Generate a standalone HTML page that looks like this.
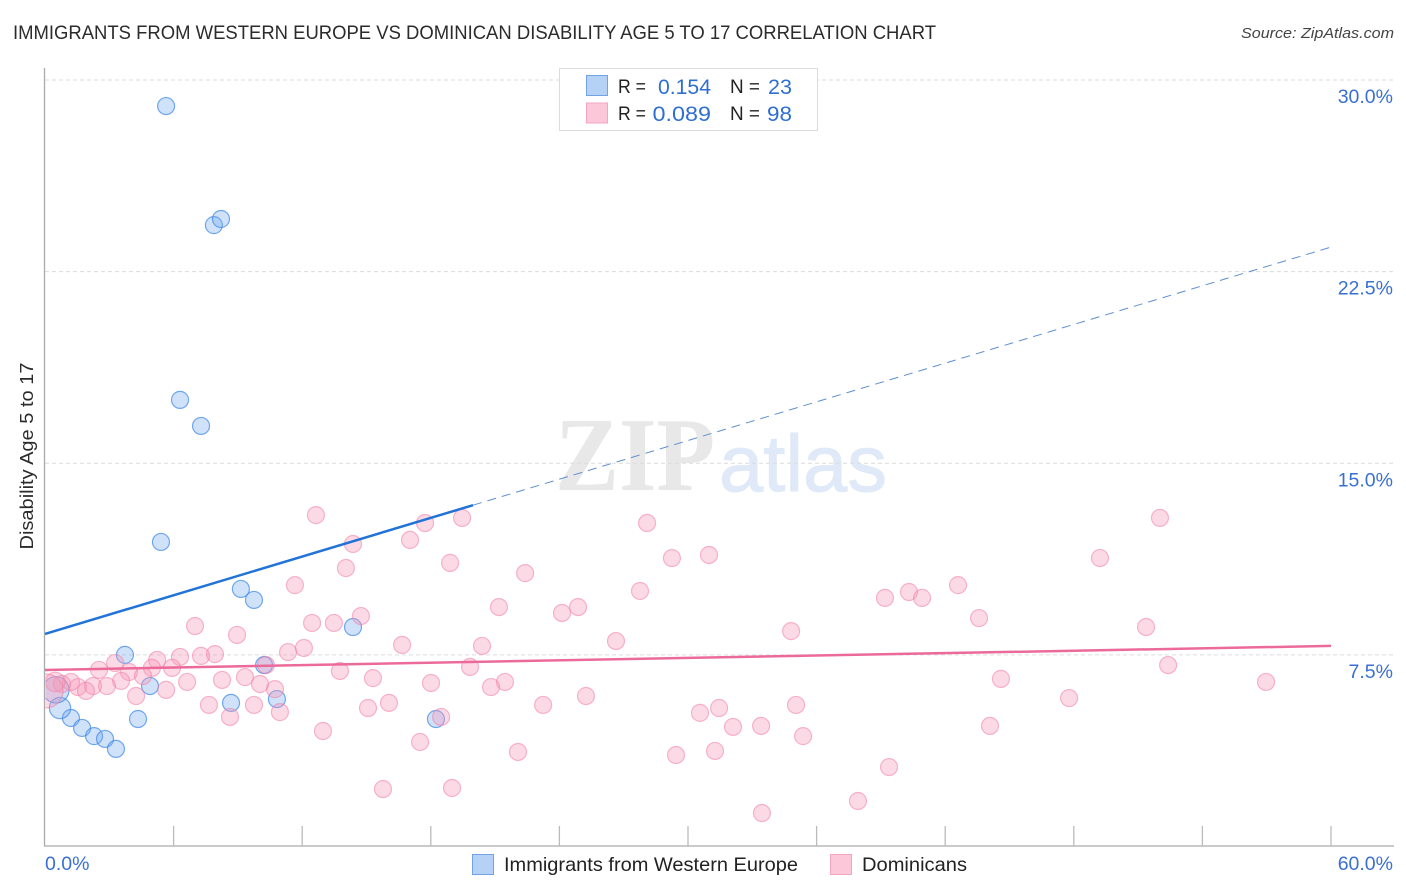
<!DOCTYPE html>
<html lang="en">
<head>
<meta charset="utf-8">
<title>Immigrants from Western Europe vs Dominican Disability Age 5 to 17 Correlation Chart</title>
<style>
html,body{margin:0;padding:0;background:#fff;width:1406px;height:892px;overflow:hidden}
svg{display:block}
text{font-family:"Liberation Sans",sans-serif}
</style>
</head>
<body>
<svg id="chart" width="1406" height="892" viewBox="0 0 1406 892" xmlns="http://www.w3.org/2000/svg">
  <defs>
    <clipPath id="plot-clip"><rect x="45.5" y="60" width="1350" height="786"/></clipPath>
  </defs>
  <rect x="0" y="0" width="1406" height="892" fill="#fff"/>
  <text x="13" y="39" font-size="19.5" fill="#2b2b2b" textLength="923" lengthAdjust="spacingAndGlyphs">IMMIGRANTS FROM WESTERN EUROPE VS DOMINICAN DISABILITY AGE 5 TO 17 CORRELATION CHART</text>
  <text x="1394" y="38" font-size="15" font-style="italic" fill="#444" text-anchor="end" textLength="153" lengthAdjust="spacingAndGlyphs">Source: ZipAtlas.com</text>

  <g>
    <text x="555" y="490" font-size="105" font-weight="bold" fill="#e8e8e8" textLength="160" lengthAdjust="spacingAndGlyphs" style="font-family:'Liberation Serif',serif">ZIP</text>
    <text x="719" y="491" font-size="80" fill="#dfe9f8" stroke="#dfe9f8" stroke-width="1" textLength="168" lengthAdjust="spacingAndGlyphs">atlas</text>
  </g>

  <g id="grid"></g>
  <g id="axes"></g>
  <g id="points" clip-path="url(#plot-clip)"></g>
  <g id="trends"></g>
  <g id="labels"></g>

  <text transform="translate(33,456) rotate(-90)" font-size="18" fill="#2b2b2b" text-anchor="middle" textLength="187" lengthAdjust="spacingAndGlyphs">Disability Age 5 to 17</text>

  <g>
    <rect x="559.5" y="68.5" width="258" height="62" fill="#fff" stroke="#dcdcdc" stroke-width="1"/>
    <rect x="586.5" y="75.5" width="21" height="20" fill="#b5d1f5" stroke="#72a3e4"/>
    <rect x="586.5" y="103" width="21" height="20" fill="#fcc8d9" stroke="#f3a6c0"/>
    <text x="618" y="93" font-size="19" fill="#222" textLength="28" lengthAdjust="spacingAndGlyphs">R =</text>
    <text x="658" y="94" font-size="21.5" fill="#2f6fd0" textLength="53" lengthAdjust="spacingAndGlyphs">0.154</text>
    <text x="730" y="93" font-size="19" fill="#222" textLength="30" lengthAdjust="spacingAndGlyphs">N =</text>
    <text x="768" y="94" font-size="21.5" fill="#2f6fd0" textLength="24" lengthAdjust="spacingAndGlyphs">23</text>
    <text x="618" y="120" font-size="19" fill="#222" textLength="28" lengthAdjust="spacingAndGlyphs">R =</text>
    <text x="652.5" y="121" font-size="21.5" fill="#2f6fd0" textLength="58.5" lengthAdjust="spacingAndGlyphs">0.089</text>
    <text x="730" y="120" font-size="19" fill="#222" textLength="30" lengthAdjust="spacingAndGlyphs">N =</text>
    <text x="767" y="121" font-size="21.5" fill="#2f6fd0" textLength="25" lengthAdjust="spacingAndGlyphs">98</text>
  </g>

  <g>
    <g>
      <rect x="472.5" y="854.5" width="21" height="20" fill="#b5d1f5" stroke="#72a3e4"/>
      <text x="504" y="871" font-size="19.5" fill="#222" textLength="294" lengthAdjust="spacingAndGlyphs">Immigrants from Western Europe</text>
    </g>
    <g>
      <rect x="830.5" y="854.5" width="21" height="20" fill="#fcc8d9" stroke="#f3a6c0"/>
      <text x="862" y="871" font-size="19.5" fill="#222" textLength="105" lengthAdjust="spacingAndGlyphs">Dominicans</text>
    </g>
  </g>
</svg>

<script>
const xTickValues = [0, 6, 12, 18, 24, 30, 36, 42, 48, 54, 60];
const yTickValues = [7.5, 15, 22.5, 30];
const yTickLabels = ["7.5%", "15.0%", "22.5%", "30.0%"];
const xEndLabels = ["0.0%", "60.0%"];

const blueX = [5.65,7.88,8.21,6.30,7.28,5.41,9.14,9.75,14.37,3.73,10.22,4.90,10.82,8.68,18.24,4.34,1.21,1.73,2.29,2.80,3.31,0.70,0.51];
const blueY = [28.98,24.32,24.56,17.48,16.46,11.92,10.08,9.65,8.59,7.50,7.10,6.28,5.77,5.62,4.99,4.99,5.03,4.64,4.32,4.21,3.82,5.42,6.13];
const blueWeight = [1,1,1,1,1,1,1,1,1,1,1,1,1,1,1,1,1,1,1,1,1,1.25,1.55];

const pinkX = [12.64,17.73,19.46,28.09,52.02,14.37,17.03,14.04,18.90,29.25,30.98,49.22,22.40,11.66,27.76,39.19,40.31,40.92,42.60,21.18,24.12,24.87,14.74,12.46,13.48,7.00,8.96,43.58,51.37,34.81,26.64,16.66,20.39,12.08,11.34,7.93,7.28,6.30,5.23,3.27,2.52,4.99,5.93,3.92,10.31,13.76,19.83,52.40,4.57,6.63,8.26,9.33,10.03,15.30,18.01,21.46,20.81,44.60,56.97,3.55,2.89,2.24,1.54,1.21,0.79,1.91,4.25,5.65,10.73,25.24,47.78,7.65,9.75,16.05,15.07,23.24,35.04,31.45,30.56,10.96,8.63,18.48,32.10,33.41,44.09,12.97,35.37,17.50,22.07,31.26,29.44,39.38,15.77,18.99,37.93,33.45,0.47,0.05];
const pinkY = [12.97,12.66,12.86,12.66,12.86,11.84,12.00,10.90,11.10,11.29,11.41,11.29,10.70,10.23,10.00,9.73,9.96,9.73,10.23,9.37,9.14,9.37,9.02,8.75,8.75,8.63,8.28,8.94,8.59,8.43,8.04,7.89,7.85,7.77,7.61,7.53,7.46,7.42,7.30,7.18,6.91,6.99,6.99,6.83,7.10,6.87,7.03,7.10,6.67,6.44,6.52,6.63,6.36,6.59,6.40,6.44,6.24,6.56,6.44,6.48,6.28,6.28,6.24,6.44,6.36,6.09,5.89,6.13,6.16,5.89,5.81,5.54,5.54,5.62,5.42,5.54,5.54,5.42,5.23,5.26,5.07,5.07,4.68,4.72,4.72,4.52,4.32,4.09,3.70,3.74,3.58,3.11,2.25,2.29,1.78,1.31,6.44,6.09];
const pinkWeight = [1,1,1,1,1,1,1,1,1,1,1,1,1,1,1,1,1,1,1,1,1,1,1,1,1,1,1,1,1,1,1,1,1,1,1,1,1,1,1,1,1,1,1,1,1,1,1,1,1,1,1,1,1,1,1,1,1,1,1,1,1,1,1,1,1,1,1,1,1,1,1,1,1,1,1,1,1,1,1,1,1,1,1,1,1,1,1,1,1,1,1,1,1,1,1,1,1.15,2];

const blueTrendStart = 8.32;
const blueTrendEnd = 23.46;
const blueSolidUntil = 19.97;
const pinkTrendStart = 6.91;
const pinkTrendEnd = 7.85;

const NS = "http://www.w3.org/2000/svg";
function sx(v){ return 45 + v * (1331 - 45) / 60; }
function sy(v){ return 846.5 - v * 25.55; }
function make(tag, attrs, parent){
  const el = document.createElementNS(NS, tag);
  for (const k in attrs) el.setAttribute(k, attrs[k]);
  parent.appendChild(el);
  return el;
}
const grid = document.getElementById("grid");
const axes = document.getElementById("axes");
const points = document.getElementById("points");
const trends = document.getElementById("trends");
const labels = document.getElementById("labels");

yTickValues.forEach(function(v, i){
  const line = make("line", {x1:45, x2:1394, y1:sy(v), y2:sy(v), stroke:"#dcdcdc", "stroke-width":1, "stroke-dasharray":"4 3"}, grid);
  
  
  const t = make("text", {x:1393, y:sy(v)+23, "font-size":19.5, fill:"#3a70d2", "text-anchor":"end"}, labels);
  t.textContent = yTickLabels[i];
  
  
});

const yAxis = make("line", {x1:44.5, x2:44.5, y1:68, y2:846.5, stroke:"#aaa", "stroke-width":1.3}, axes);


const xAxis = make("line", {x1:44, x2:1394, y1:846, y2:846, stroke:"#aaa", "stroke-width":1.3}, axes);



xTickValues.slice(1).forEach(function(v){
  const tick = make("line", {x1:sx(v), x2:sx(v), y1:826, y2:846, stroke:"#bbb", "stroke-width":1.3}, axes);
  
  
});

const x0 = make("text", {x:45, y:870, "font-size":19.5, fill:"#3a70d2"}, labels);
x0.textContent = xEndLabels[0];


const x1 = make("text", {x:1393, y:870, "font-size":19.5, fill:"#3a70d2", "text-anchor":"end"}, labels);
x1.textContent = xEndLabels[1];



blueX.forEach(function(v, i){
  const c = make("circle", {cx:sx(v), cy:sy(blueY[i]), r:8.5*blueWeight[i], fill:"rgba(110,165,240,0.32)", stroke:"rgba(60,135,230,0.7)", "stroke-width":1.2}, points);
  
  
});
pinkX.forEach(function(v, i){
  const c = make("circle", {cx:sx(v), cy:sy(pinkY[i]), r:8.5*pinkWeight[i], fill:"rgba(245,150,180,0.35)", stroke:"rgba(240,125,165,0.55)", "stroke-width":1.2}, points);
  
  
});

function blueAt(x){ return blueTrendStart + (blueTrendEnd - blueTrendStart) * x / 60; }

const blueDash = make("line", {x1:sx(blueSolidUntil), y1:sy(blueAt(blueSolidUntil)), x2:sx(60), y2:sy(blueTrendEnd), stroke:"#5f8fcf", "stroke-width":1, "stroke-dasharray":"9 6"}, trends);


const blueSolid = make("line", {x1:sx(0), y1:sy(blueTrendStart), x2:sx(blueSolidUntil), y2:sy(blueAt(blueSolidUntil)), stroke:"#2273d8", "stroke-width":2.5}, trends);


const pinkLine = make("line", {x1:sx(0), y1:sy(pinkTrendStart), x2:sx(60), y2:sy(pinkTrendEnd), stroke:"#ec6a9a", "stroke-width":2.5}, trends);


</script>
</body>
</html>
